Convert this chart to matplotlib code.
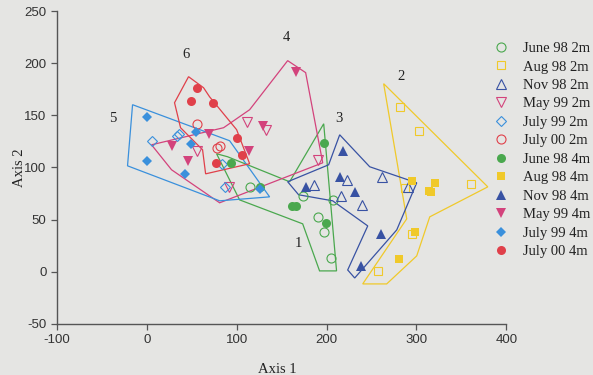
import matplotlib.pyplot as plt

plt.rcParams["axes.unicode_minus"] = False

# point data (Axis 1, Axis 2)
june98_2m_x = [173.7, 207.1, 190.4, 196.8, 205.3, 114.4]
june98_2m_y = [72.8, 68.9, 52.9, 37.9, 13.5, 81.2]
aug98_2m_x = [281.4, 302.6, 360.5, 287.6, 295.6, 256.8]
aug98_2m_y = [157.8, 134.6, 84.0, 80.7, 36.2, 0.8]
nov98_2m_x = [186.0, 223.2, 216.5, 239.9, 262.1, 290.6]
nov98_2m_y = [83.4, 88.2, 72.8, 64.1, 90.8, 81.7]
may99_2m_x = [111.4, 133.0, 55.7, 91.3, 190.4]
may99_2m_y = [143.3, 135.6, 115.4, 81.7, 107.4]
july99_2m_x = [5.5, 33.0, 35.4, 84.0, 86.5]
july99_2m_y = [125.8, 130.5, 132.4, 103.1, 81.2]
july00_2m_x = [56.1, 78.5, 81.0]
july00_2m_y = [142.0, 118.5, 120.5]

june98_4m_x = [94.0, 126.3, 161.9, 166.4, 197.1, 199.0]
june98_4m_y = [104.2, 81.2, 63.2, 63.2, 124.0, 46.5]
aug98_4m_x = [294.8, 320.4, 314.0, 316.7, 298.1, 280.6]
aug98_4m_y = [87.2, 85.0, 77.9, 76.0, 38.2, 12.0]
nov98_4m_x = [218.3, 214.6, 231.3, 261.0, 238.0, 177.5]
nov98_4m_y = [116.1, 91.3, 76.9, 36.0, 5.5, 81.1]
may99_4m_x = [165.6, 68.7, 28.3, 45.7, 113.6, 128.8]
may99_4m_y = [191.3, 132.1, 120.2, 106.4, 116.3, 140.0]
july99_4m_x = [0.0, 0.0, 42.0, 49.4, 54.2, 126.0]
july99_4m_y = [148.5, 106.2, 93.3, 122.8, 134.0, 79.7]
july00_4m_x = [56.1, 49.0, 73.5, 99.9, 105.8, 76.5]
july00_4m_y = [176.3, 163.5, 161.9, 128.3, 112.2, 104.2]

# hand drawn group outlines
hull1_x = [77.6, 89.9, 158.9, 196.8, 211.1, 192.2, 173.4, 103.2]
hull1_y = [113.2, 110.3, 86.3, 142.0, 0.7, 0.7, 45.9, 68.9]
hull2_x = [263.5, 379.4, 314.8, 300.3, 266.9, 240.2, 289.2]
hull2_y = [180.5, 81.4, 52.6, 15.1, -11.8, -11.8, 50.7]
hull3_x = [214.6, 248.0, 300.3, 278.1, 231.3, 223.5, 245.8, 206.8, 168.9, 156.7, 202.3]
hull3_y = [131.4, 100.7, 85.3, 40.1, -6.1, 1.6, 43.9, 68.0, 73.8, 86.3, 102.6]
hull4_x = [156.7, 176.7, 195.7, 81.0, 27.5, 5.2, 85.4, 114.4]
hull4_y = [202.6, 191.1, 104.5, 66.1, 97.8, 121.8, 138.2, 155.5]
hull5_x = [-15.9, 92.1, 136.6, 81.0, -21.5]
hull5_y = [160.3, 125.7, 71.8, 68.0, 101.6]
hull6_x = [46.4, 63.1, 69.8, 99.9, 114.4, 65.4, 62.0, 37.5, 30.8]
hull6_y = [187.2, 176.6, 167.9, 136.3, 103.6, 93.9, 117.0, 138.2, 162.2]

group_labels = ["1", "2", "3", "4", "5", "6"]
label_x = [168.2, 282.5, 213.5, 155.6, -38.1, 43.1]
label_y = [26.6, 187.2, 146.8, 224.7, 146.8, 208.4]

green = "#4aa84e"
yellow = "#f0c92a"
navy = "#3852a3"
magenta = "#d3437c"
sky = "#3a90dc"
red = "#e0404a"
paper = "#e5e5e3"

fig = plt.figure(figsize=(5.93, 3.75), dpi=100, facecolor=paper)
ax = fig.add_axes([0.0961, 0.1368, 0.7577, 0.8331], facecolor=paper)

hulls = [(hull1_x, hull1_y, green), (hull2_x, hull2_y, yellow), (hull3_x, hull3_y, navy),
         (hull4_x, hull4_y, magenta), (hull5_x, hull5_y, sky), (hull6_x, hull6_y, red)]
for hx, hy, c in hulls:
    ax.fill(hx, hy, fill=False, edgecolor=c, linewidth=0.9)

series = [
    (june98_2m_x, june98_2m_y, "o", green, False, "June 98 2m"),
    (aug98_2m_x, aug98_2m_y, "s", yellow, False, "Aug 98 2m"),
    (nov98_2m_x, nov98_2m_y, "^", navy, False, "Nov 98 2m"),
    (may99_2m_x, may99_2m_y, "v", magenta, False, "May 99 2m"),
    (july99_2m_x, july99_2m_y, "D", sky, False, "July 99 2m"),
    (july00_2m_x, july00_2m_y, "o", red, False, "July 00 2m"),
    (june98_4m_x, june98_4m_y, "o", green, True, "June 98 4m"),
    (aug98_4m_x, aug98_4m_y, "s", yellow, True, "Aug 98 4m"),
    (nov98_4m_x, nov98_4m_y, "^", navy, True, "Nov 98 4m"),
    (may99_4m_x, may99_4m_y, "v", magenta, True, "May 99 4m"),
    (july99_4m_x, july99_4m_y, "D", sky, True, "July 99 4m"),
    (july00_4m_x, july00_4m_y, "o", red, True, "July 00 4m"),
]
for sx, sy, m, c, filled, lab in series:
    ms = 6.5 if m in ("o", "^", "v") else 5.5
    if filled:
        ax.plot(sx, sy, m, color=c, markersize=ms, markeredgewidth=0, label=lab)
    else:
        ax.plot(sx, sy, m, color=c, markerfacecolor="none", markersize=ms,
                markeredgewidth=0.8, label=lab)

for t, lx, ly in zip(group_labels, label_x, label_y):
    ax.text(lx, ly, t, fontfamily="Liberation Serif", fontsize=10.5, color="#222222",
            ha="center", va="center")

ax.set_xlim(-100, 400)
ax.set_ylim(-50, 250)
ax.set_xticks([-100, 0, 100, 200, 300, 400])
ax.set_yticks([-50, 0, 50, 100, 150, 200, 250])
for s in ["top", "right"]:
    ax.spines[s].set_visible(False)
for s in ["left", "bottom"]:
    ax.spines[s].set_color("#555555")
    ax.spines[s].set_linewidth(1.0)
ax.tick_params(direction="out", length=4, width=0.9, color="#555555",
               labelsize=9.5, labelcolor="#333333")
for lbl in ax.get_xticklabels() + ax.get_yticklabels():
    lbl.set_fontfamily("Liberation Sans")

ax.set_xlabel("Axis 1", fontfamily="Liberation Serif", fontsize=10.5, color="#222222")
ax.set_ylabel("Axis 2", fontfamily="Liberation Serif", fontsize=10.5, color="#222222")
ax.xaxis.set_label_coords(0.49, -0.125)
ax.yaxis.set_label_coords(-0.07, 0.5)

leg = ax.legend(loc="upper left", bbox_to_anchor=(488 / 593, 1 - 36 / 375),
                bbox_transform=fig.transFigure, frameon=False, borderaxespad=0,
                handlelength=1.0, handletextpad=1.0, labelspacing=0.36,
                prop={"family": "Liberation Serif", "size": 10.5})
for txt in leg.get_texts():
    txt.set_color("#222222")

fig.savefig("out.png", dpi=100, facecolor=paper)
